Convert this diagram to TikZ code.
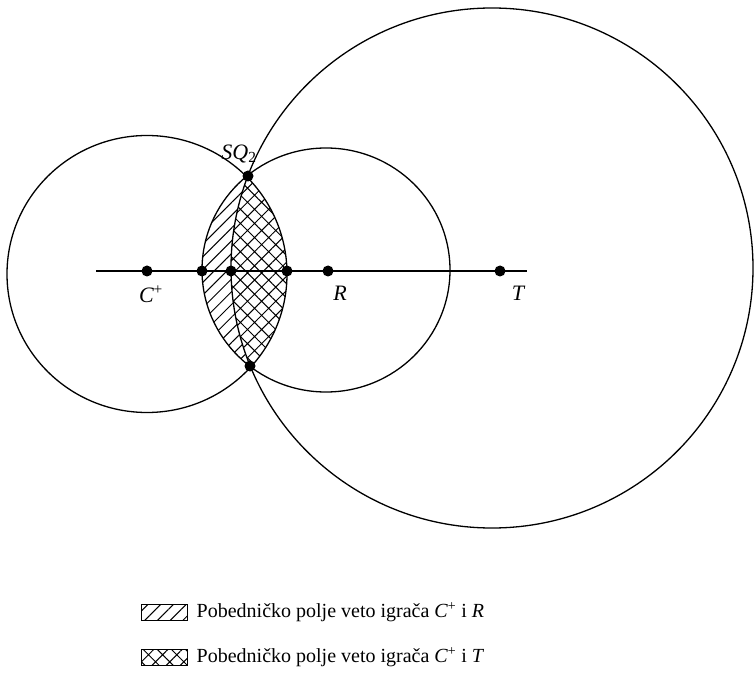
\documentclass[tikz,border=0pt]{standalone}
\usepackage{fontspec}
\setmainfont{Liberation Serif}
\usetikzlibrary{positioning, patterns.meta}
\tikzset{
  circ/.style   = {line width=1.3pt},
  pt/.style     = {circle, fill, inner sep=0pt, minimum size=11pt},
  lbl/.style    = {font=\fontsize{22}{26}\selectfont\itshape, inner sep=1pt},
  txt/.style    = {font=\fontsize{20}{24}\selectfont, inner sep=0pt},
  single/.style = {pattern={Lines[angle=45, distance=9pt, line width=1pt]}},
  cross/.style  = {pattern={Hatch[angle=45, distance=10pt, line width=1pt]}},
  key/.style    = {draw, line width=1pt, minimum width=46pt,
                   minimum height=16pt, inner sep=0pt},
}

\begin{document}
\begin{tikzpicture}[x=1pt, y=-1pt, node distance=8pt]
  \useasboundingbox (0,0) rectangle (755,676);
  \coordinate (oc) at (147,274);
  \coordinate (or) at (326,270);
  \coordinate (ot) at (492,268);
  % winning fields
  \begin{scope}
    \clip (oc) ellipse [x radius=140, y radius=138.5];
    \fill[single] (or) ellipse [x radius=124, y radius=122];
    \fill[cross, preaction={fill=white}] (ot) ellipse [x radius=261, y radius=260];
  \end{scope}
  % circles
  \draw[circ] (oc) ellipse [x radius=140, y radius=138.5];
  \draw[circ] (or) ellipse [x radius=124, y radius=122];
  \draw[circ] (ot) ellipse [x radius=261, y radius=260];
  \coordinate (w) at (96,271);
  \coordinate (e) at (527,271);
  \draw[circ] (w) -- (e);
  % points
  \node[pt] (cp)  at (147,271) {};
  \node[pt] (a)   at (202,271) {};
  \node[pt] (b)   at (231,271) {};
  \node[pt] (c)   at (287,271) {};
  \node[pt] (rp)  at (328,271) {};
  \node[pt] (tp)  at (500,271) {};
  \node[pt] (sq)  at (248,176) {};
  \node[pt] (sqb) at (250,366) {};
  \node[lbl] (sqlbl) at (239,154) {SQ\textsubscript{\upshape 2}};
  \node[lbl, below=8pt of cp, xshift=4pt]  (cpl) {C\textsuperscript{\upshape +}};
  \node[lbl, below=8pt of rp, xshift=12pt] (rl)  {R};
  \node[lbl, below=8pt of tp, xshift=18pt] (tl)  {T};
  % legend
  \node[key, single] (k1) at (164,612) {};
  \node[txt, right=9pt of k1] (t1)
    {Pobedničko polje veto igrača \textit{C}\textsuperscript{+} i \textit{R}};
  \node[key, cross, below=28pt of k1] (k2) {};
  \node[txt, right=9pt of k2] (t2)
    {Pobedničko polje veto igrača \textit{C}\textsuperscript{+} i \textit{T}};
\end{tikzpicture}
\end{document}
